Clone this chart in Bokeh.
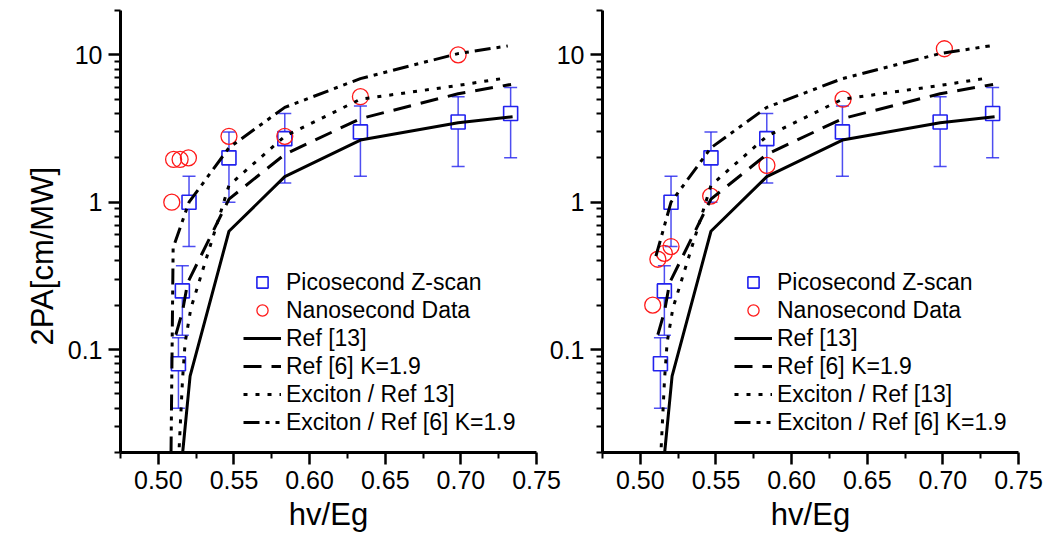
from bokeh.plotting import figure
from bokeh.models import (Range1d, FixedTicker, PrintfTickFormatter, CustomJSTickFormatter,
                          Whisker, ColumnDataSource, Legend, LegendItem, TeeHead, Title)
from bokeh.layouts import row
from bokeh.embed import file_html
from bokeh.resources import INLINE

# ---------------- data ----------------
# Picosecond Z-scan (same in both panels)
ps_x = [0.5133, 0.5159, 0.5203, 0.5467, 0.5836, 0.6336, 0.6982, 0.7329]
ps_y = [0.08, 0.25, 1.0, 2.0, 2.7, 3.0, 3.5, 4.0]
ps_lo = [0.04, 0.125, 0.5, 1.0, 1.35, 1.5, 1.75, 2.0]
ps_hi = [0.12, 0.37, 1.5, 3.0, 4.0, 4.5, 5.2, 6.0]

# Nanosecond data
ns_left_x = [0.5089, 0.5101, 0.5144, 0.5199, 0.5467, 0.5836, 0.6336, 0.6982]
ns_left_y = [1.0, 1.95, 1.95, 2.0, 2.8, 2.8, 5.2, 10.0]
ns_right_x = [0.5082, 0.5116, 0.5159, 0.5203, 0.5465, 0.5837, 0.6340, 0.7010]
ns_right_y = [0.20, 0.41, 0.45, 0.50, 1.10, 1.78, 5.0, 11.0]

# Ref [13]
ref13_x = [0.5161, 0.5210, 0.5467, 0.5836, 0.6336, 0.6982, 0.7342]
ref13_y = [0.02, 0.066, 0.635, 1.49, 2.64, 3.46, 3.8]

# Ref [6] K=1.9
ref6_x = [0.5116, 0.5160, 0.5194, 0.5467, 0.5836, 0.6336, 0.6982, 0.7332]
ref6_y = [0.126, 0.182, 0.284, 1.05, 2.11, 3.69, 5.45, 6.3]

# Exciton / Ref 13
exc13_x = [0.5138, 0.5160, 0.5177, 0.5215, 0.5467, 0.5836, 0.6336, 0.6982, 0.7310]
exc13_y = [0.0217, 0.0625, 0.111, 0.19, 1.3, 2.8, 5.0, 6.2, 7.0]

# Exciton / Ref [6] K=1.9
exc6_left_x = [0.5084, 0.5098, 0.5203, 0.5467, 0.5836, 0.6336, 0.6982, 0.7310]
exc6_left_y = [0.02, 0.49, 1.0, 2.34, 4.4, 6.9, 10.2, 11.5]
exc6_right_x = [0.5103, 0.5203, 0.5467, 0.5836, 0.6336, 0.6982, 0.7310]
exc6_right_y = [0.43, 1.0, 2.34, 4.4, 6.9, 10.2, 11.5]

x_major = [0.50, 0.55, 0.60, 0.65, 0.70, 0.75]
x_minor = [0.475, 0.525, 0.575, 0.625, 0.675, 0.725]
y_major = [0.1, 1, 10]
y_minor = [0.02, 0.03, 0.04, 0.05, 0.06, 0.07, 0.08, 0.09,
           0.2, 0.3, 0.4, 0.5, 0.6, 0.7, 0.8, 0.9,
           2, 3, 4, 5, 6, 7, 8, 9, 20]

legend_left = ["Picosecond Z-scan", "Nanosecond Data", "Ref [13]", "Ref [6] K=1.9",
               "Exciton / Ref 13]", "Exciton / Ref [6] K=1.9"]
legend_right = ["Picosecond Z-scan", "Nanosecond Data", "Ref [13]", "Ref [6] K=1.9",
                "Exciton / Ref [13]", "Exciton / Ref [6] K=1.9"]

FONT = "Liberation Sans"
BLUE = "#2222ee"
RED = "#ff1a1a"


def make_panel(ns_x, ns_y, e6_x, e6_y, labels, border_left, border_right, leg_x, ylabel):
    p = figure(frame_width=416, frame_height=442, y_axis_type="log",
               x_range=Range1d(0.475, 0.75), y_range=Range1d(0.02, 20),
               output_backend="svg", toolbar_location=None,
               min_border_left=border_left, min_border_right=border_right,
               min_border_top=10, min_border_bottom=88)
    p.outline_line_color = None
    p.xgrid.visible = False
    p.ygrid.visible = False
    p.background_fill_color = None
    p.border_fill_color = None

    for ax in (p.xaxis[0], p.yaxis[0]):
        ax.axis_line_width = 3
        ax.axis_line_color = "black"
        ax.major_tick_line_color = "black"
        ax.minor_tick_line_color = "black"
        ax.major_tick_line_width = 2.5
        ax.minor_tick_line_width = 2
        ax.major_tick_in = 0
        ax.minor_tick_in = 0
        ax.major_tick_out = 12
        ax.minor_tick_out = 6
        ax.major_label_text_font = FONT
        ax.major_label_text_font_size = "25px"
        ax.major_label_text_color = "black"
        ax.axis_label_text_font = FONT
        ax.axis_label_text_font_size = "31px"
        ax.axis_label_text_font_style = "normal"
        ax.axis_label_text_color = "black"
        ax.major_label_standoff = 6

    p.xaxis.ticker = FixedTicker(ticks=x_major, minor_ticks=x_minor)
    p.xaxis.formatter = PrintfTickFormatter(format="%.2f")
    p.xaxis.axis_label = "hv/Eg"
    p.xaxis.axis_label_standoff = 5
    p.yaxis.ticker = FixedTicker(ticks=y_major, minor_ticks=y_minor)
    p.yaxis.formatter = CustomJSTickFormatter(code="return tick.toString();")
    if ylabel:
        t = Title(text=ylabel, align="left", offset=107, standoff=10,
                  text_font=FONT, text_font_size="31px", text_font_style="normal",
                  text_color="black")
        p.add_layout(t, "left")

    src = ColumnDataSource(dict(x=ps_x, y=ps_y, lo=ps_lo, hi=ps_hi))
    wh = Whisker(source=src, base="x", upper="hi", lower="lo",
                 line_color=BLUE, line_width=1.5, line_alpha=0.8,
                 upper_head=TeeHead(size=13, line_color=BLUE, line_width=1.5, line_alpha=0.8),
                 lower_head=TeeHead(size=13, line_color=BLUE, line_width=1.5, line_alpha=0.8))
    p.add_layout(wh)
    sq = p.scatter("x", "y", source=src, marker="square", size=14,
                   fill_color="white", line_color=BLUE, line_width=1.6)
    ci = p.scatter(ns_x, ns_y, marker="circle", size=16, fill_color=None,
                   line_color=RED, line_width=1.3)

    l1 = p.line(ref13_x, ref13_y, line_color="black", line_width=3)
    l2 = p.line(ref6_x, ref6_y, line_color="black", line_width=3, line_dash="18 10")
    l3 = p.line(exc13_x, exc13_y, line_color="black", line_width=3, line_dash="4 8")
    l4 = p.line(e6_x, e6_y, line_color="black", line_width=3, line_dash="16 6 4 6 4 6")

    items = [LegendItem(label=lab, renderers=[r]) for lab, r in zip(labels, [sq, ci, l1, l2, l3, l4])]
    leg = Legend(items=items, location=(leg_x, 16), orientation="vertical",
                 glyph_width=38, glyph_height=28, label_height=28, spacing=0,
                 padding=0, margin=0, label_standoff=5,
                 border_line_color=None, background_fill_alpha=0,
                 label_text_font=FONT, label_text_font_size="23px",
                 label_text_color="black")
    p.add_layout(leg)
    return p


p1 = make_panel(ns_left_x, ns_left_y, exc6_left_x, exc6_left_y, legend_left,
                120, 26, 123, "2PA[cm/MW]")
p2 = make_panel(ns_right_x, ns_right_y, exc6_right_x, exc6_right_y, legend_right,
                60, 28, 132, None)
p2.styles = {"margin-left": "-20px"}

layout = row(p1, p2)
open("out.html", "w").write(file_html(layout, INLINE))
